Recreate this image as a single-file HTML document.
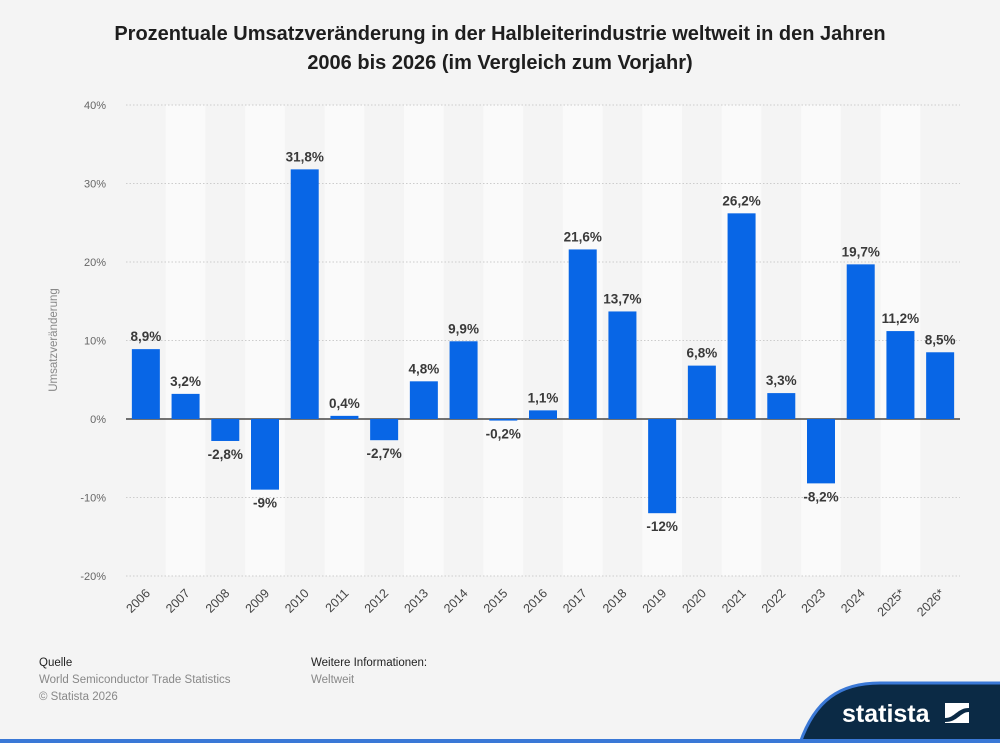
<!DOCTYPE html>
<html><head><meta charset="utf-8"><style>
body{margin:0;width:1000px;height:743px;background:#f4f4f4;font-family:"Liberation Sans",sans-serif;overflow:hidden;position:relative}
.t{position:absolute;left:0;width:1000px;top:20px;text-align:center;font-weight:bold;font-size:20px;line-height:29px;color:#1e1e1e}
.f{position:absolute;font-size:11.5px;color:#888;line-height:17px}
.f b{color:#222;font-weight:normal}
</style></head><body>
<div class="t">Prozentuale Umsatzveränderung in der Halbleiterindustrie weltweit in den Jahren<br>2006 bis 2026 (im Vergleich zum Vorjahr)</div>
<svg id="c" width="1000" height="743" style="position:absolute;left:0;top:0"></svg>
<div class="f" style="left:39px;top:655px"><b>Quelle</b><br>World Semiconductor Trade Statistics<br>© Statista 2026</div>
<div class="f" style="left:311px;top:655px"><b>Weitere Informationen:</b><br>Weltweit</div>
<svg width="1000" height="743" style="position:absolute;left:0;top:0">
<path d="M800,743 C815,700 840,683 880,683 L1000,683 L1000,743 Z" fill="#0b2a45"/>
<path d="M800,743 C815,700 840,683 880,683 L1000,683" fill="none" stroke="#3a78d6" stroke-width="3"/>
<rect x="0" y="739" width="1000" height="4" fill="#3a78d6"/>
<text x="842" y="722" fill="#fff" font-size="25" font-weight="bold" font-family="Liberation Sans,sans-serif">statista</text>
<rect x="945" y="703" width="24" height="20" fill="#fff"/>
<path d="M945,718 C955,718 957,708 969,708 L969,712 C960,712 958,722 945,722Z" fill="#0b2a45"/>
</svg>
<script>
const categories=["2006","2007","2008","2009","2010","2011","2012","2013","2014","2015","2016","2017","2018","2019","2020","2021","2022","2023","2024","2025*","2026*"];
const values=[8.9,3.2,-2.8,-9,31.8,0.4,-2.7,4.8,9.9,-0.2,1.1,21.6,13.7,-12,6.8,26.2,3.3,-8.2,19.7,11.2,8.5];
const labels=["8,9%","3,2%","-2,8%","-9%","31,8%","0,4%","-2,7%","4,8%","9,9%","-0,2%","1,1%","21,6%","13,7%","-12%","6,8%","26,2%","3,3%","-8,2%","19,7%","11,2%","8,5%"];
const ticks=[40,30,20,10,0,-10,-20];
const tickLabels=["40%","30%","20%","10%","0%","-10%","-20%"];
const svg=document.getElementById('c');const NS="http://www.w3.org/2000/svg";
const x0=126,x1=960,bw=(x1-x0)/categories.length;
const y=v=>419-v*7.85;
function mk(t,a,p){const e=document.createElementNS(NS,t);for(const k in a)e.setAttribute(k,a[k]);(p||svg).appendChild(e);return e;}
categories.forEach((c,i)=>{if(i%2==1){const r=mk('rect',{x:x0+i*bw,y:y(40),width:bw,height:y(-20)-y(40),fill:'#fafafa'});

}});
ticks.forEach((t,i)=>{const l=mk('line',{x1:x0,x2:x1,y1:y(t),y2:y(t),stroke:t==0?'#222':'#ccc','stroke-width':t==0?1.3:1,'stroke-dasharray':t==0?'':'1.5,2'});


const tx=mk('text',{x:106,y:y(t)+4,'text-anchor':'end','font-size':11,fill:'#666'});tx.textContent=tickLabels[i];

});
const yt=mk('text',{x:0,y:0,transform:'translate(57,340) rotate(-90)','text-anchor':'middle','font-size':11.5,fill:'#888'});yt.textContent='Umsatzveränderung';


categories.forEach((c,i)=>{const cx=x0+(i+0.5)*bw,v=values[i];
const top=Math.min(y(v),y(0)),h=Math.abs(y(v)-y(0));
const r=mk('rect',{x:cx-14,y:top,width:28,height:Math.max(h,1),fill:'#0866e6'});


const lt=mk('text',{x:cx,y:v>=0?y(v)-8:y(v)+18,'text-anchor':'middle','font-size':13.5,'font-weight':'bold',fill:'#3a3a3a'});lt.textContent=labels[i];


const xt=mk('text',{x:0,y:0,transform:`translate(${cx+5},${594}) rotate(-45)`,'text-anchor':'end','font-size':12.5,fill:'#444'});xt.textContent=c;

});
</script>
</body></html>
